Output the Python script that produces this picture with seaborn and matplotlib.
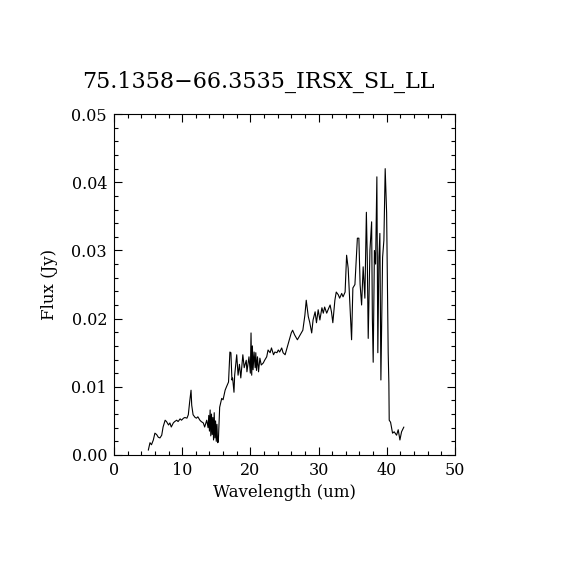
import seaborn as sns
import matplotlib.pyplot as plt
from matplotlib.ticker import MultipleLocator
import pandas as pd

# Spectrum values
wavelength = [5.03, 5.28, 5.5, 5.77, 6.0, 6.25, 6.5, 6.74, 7.0, 7.2, 7.5, 7.7, 8.0, 8.2,
              8.4, 8.7, 8.9, 9.2, 9.4, 9.7, 9.9, 10.2, 10.4, 10.7, 10.9, 11.1, 11.3, 11.4,
              11.6, 11.9, 12.1, 12.3, 12.6, 12.8, 13.1, 13.3, 13.6, 13.8, 13.9, 14.0, 14.1,
              14.2, 14.3, 14.4, 14.5, 14.6, 14.7, 14.8, 14.9, 15.0, 15.1, 15.2, 15.3, 15.5,
              15.8, 16.0, 16.3, 16.5, 16.8, 17.0, 17.15, 17.3, 17.4, 17.6, 17.7, 18.0, 18.2,
              18.4, 18.6, 18.9, 19.1, 19.4, 19.5, 19.65, 19.8, 20.0, 20.1, 20.2, 20.3, 20.4,
              20.55, 20.7, 20.8, 20.9, 21.05, 21.2, 21.4, 21.6, 21.9, 22.1, 22.4, 22.6, 22.9,
              23.1, 23.4, 23.6, 23.9, 24.1, 24.3, 24.6, 24.8, 25.1, 25.3, 25.5, 25.8, 26.0,
              26.2, 26.5, 26.9, 27.3, 27.7, 28.0, 28.2, 28.5, 28.7, 29.0, 29.2, 29.5, 29.7,
              29.95, 30.2, 30.5, 30.7, 30.9, 31.2, 31.4, 31.7, 31.9, 32.1, 32.4, 32.6, 32.9,
              33.1, 33.4, 33.6, 33.9, 34.12, 34.35, 34.85, 35.04, 35.34, 35.7, 35.92, 36.1,
              36.32, 36.55, 36.8, 37.02, 37.15, 37.29, 37.54, 37.79, 37.9, 38.02, 38.2,
              38.37, 38.56, 38.7, 38.86, 39.0, 39.15, 39.4, 39.59, 39.78, 39.99, 40.22,
              40.32, 40.37, 40.57, 40.86, 41.1, 41.45, 41.69, 41.94, 42.18, 42.52]
flux = [0.0007, 0.0018, 0.0015, 0.0022, 0.0032, 0.0030, 0.0026, 0.0025, 0.0029, 0.0041,
        0.0051, 0.0049, 0.0044, 0.0047, 0.0041, 0.0047, 0.0049, 0.0051, 0.0049, 0.0053,
        0.0051, 0.0054, 0.0055, 0.0054, 0.0059, 0.0078, 0.0095, 0.0073, 0.0059, 0.0055,
        0.0054, 0.0056, 0.0051, 0.0049, 0.0047, 0.0041, 0.0051, 0.0040, 0.0058, 0.0035,
        0.0066, 0.0028, 0.0060, 0.0030, 0.0055, 0.0022, 0.0062, 0.0025, 0.0050, 0.0020,
        0.0045, 0.0018, 0.0019, 0.0070, 0.0083, 0.0081, 0.0095, 0.0100, 0.0107, 0.0151,
        0.0150, 0.0110, 0.0113, 0.0092, 0.0117, 0.0147, 0.0117, 0.0133, 0.0113, 0.0147,
        0.0128, 0.0139, 0.0122, 0.0133, 0.0144, 0.0120, 0.0179, 0.0117, 0.0160, 0.0125,
        0.0151, 0.0128, 0.0150, 0.0124, 0.0144, 0.0122, 0.0142, 0.0132, 0.0135, 0.0139,
        0.0144, 0.0154, 0.0150, 0.0157, 0.0147, 0.0151, 0.0150, 0.0154, 0.0151, 0.0157,
        0.0150, 0.0147, 0.0154, 0.0161, 0.0172, 0.0179, 0.0183, 0.0176, 0.0169, 0.0176,
        0.0183, 0.0205, 0.0227, 0.0203, 0.0195, 0.0179, 0.0198, 0.0210, 0.0194, 0.0213,
        0.0198, 0.0216, 0.0208, 0.0217, 0.0208, 0.0213, 0.0220, 0.0210, 0.0194, 0.0227,
        0.0239, 0.0235, 0.0230, 0.0237, 0.0232, 0.0239, 0.0293, 0.0274, 0.0169, 0.0245,
        0.0250, 0.0318, 0.0318, 0.0250, 0.0220, 0.0276, 0.0230, 0.0356, 0.0290, 0.0171,
        0.0300, 0.0342, 0.0200, 0.0136, 0.0300, 0.0280, 0.0408, 0.0150, 0.0290, 0.0325,
        0.0110, 0.0290, 0.0315, 0.0420, 0.0355, 0.0150, 0.0105, 0.0051, 0.0048, 0.0032,
        0.0034, 0.0029, 0.0037, 0.0022, 0.0034, 0.0041]

df = pd.DataFrame({"Wavelength": wavelength, "Flux": flux})

sns.set_style("ticks")
plt.rcParams["font.family"] = ["DejaVu Serif"]
plt.rcParams["text.color"] = "black"
plt.rcParams["axes.labelcolor"] = "black"

fig = plt.figure(figsize=(5.7, 5.7), dpi=100)
ax = fig.add_axes([0.2, 0.2018, 0.598, 0.598])

sns.lineplot(data=df, x="Wavelength", y="Flux", color="black", linewidth=0.8,
             sort=False, ax=ax)

ax.set_xlim(0, 50)
ax.set_ylim(0, 0.05)
ax.xaxis.set_major_locator(MultipleLocator(10))
ax.xaxis.set_minor_locator(MultipleLocator(2))
ax.yaxis.set_major_locator(MultipleLocator(0.01))
ax.yaxis.set_minor_locator(MultipleLocator(0.002))
ax.yaxis.set_major_formatter(plt.FormatStrFormatter("%.2f"))
ax.tick_params(which="both", direction="in", top=True, right=True, width=0.8,
               labelsize=11.5, colors="black")
ax.tick_params(which="major", length=5.5, pad=5)
ax.tick_params(which="minor", length=2.8)
for s in ax.spines.values():
    s.set_linewidth(0.8)
    s.set_color("black")

ax.set_xlabel("Wavelength (um)", fontsize=12)
ax.set_ylabel("Flux (Jy)", fontsize=12)
ax.xaxis.set_label_coords(0.5, -0.086)
ax.yaxis.set_label_coords(-0.165, 0.5)

fig.text(0.453, 0.856, "75.1358\u221266.3535_IRSX_SL_LL", fontsize=16,
         ha="center", va="center", color="black")

plt.savefig("out.png", dpi=100)
plt.close()
